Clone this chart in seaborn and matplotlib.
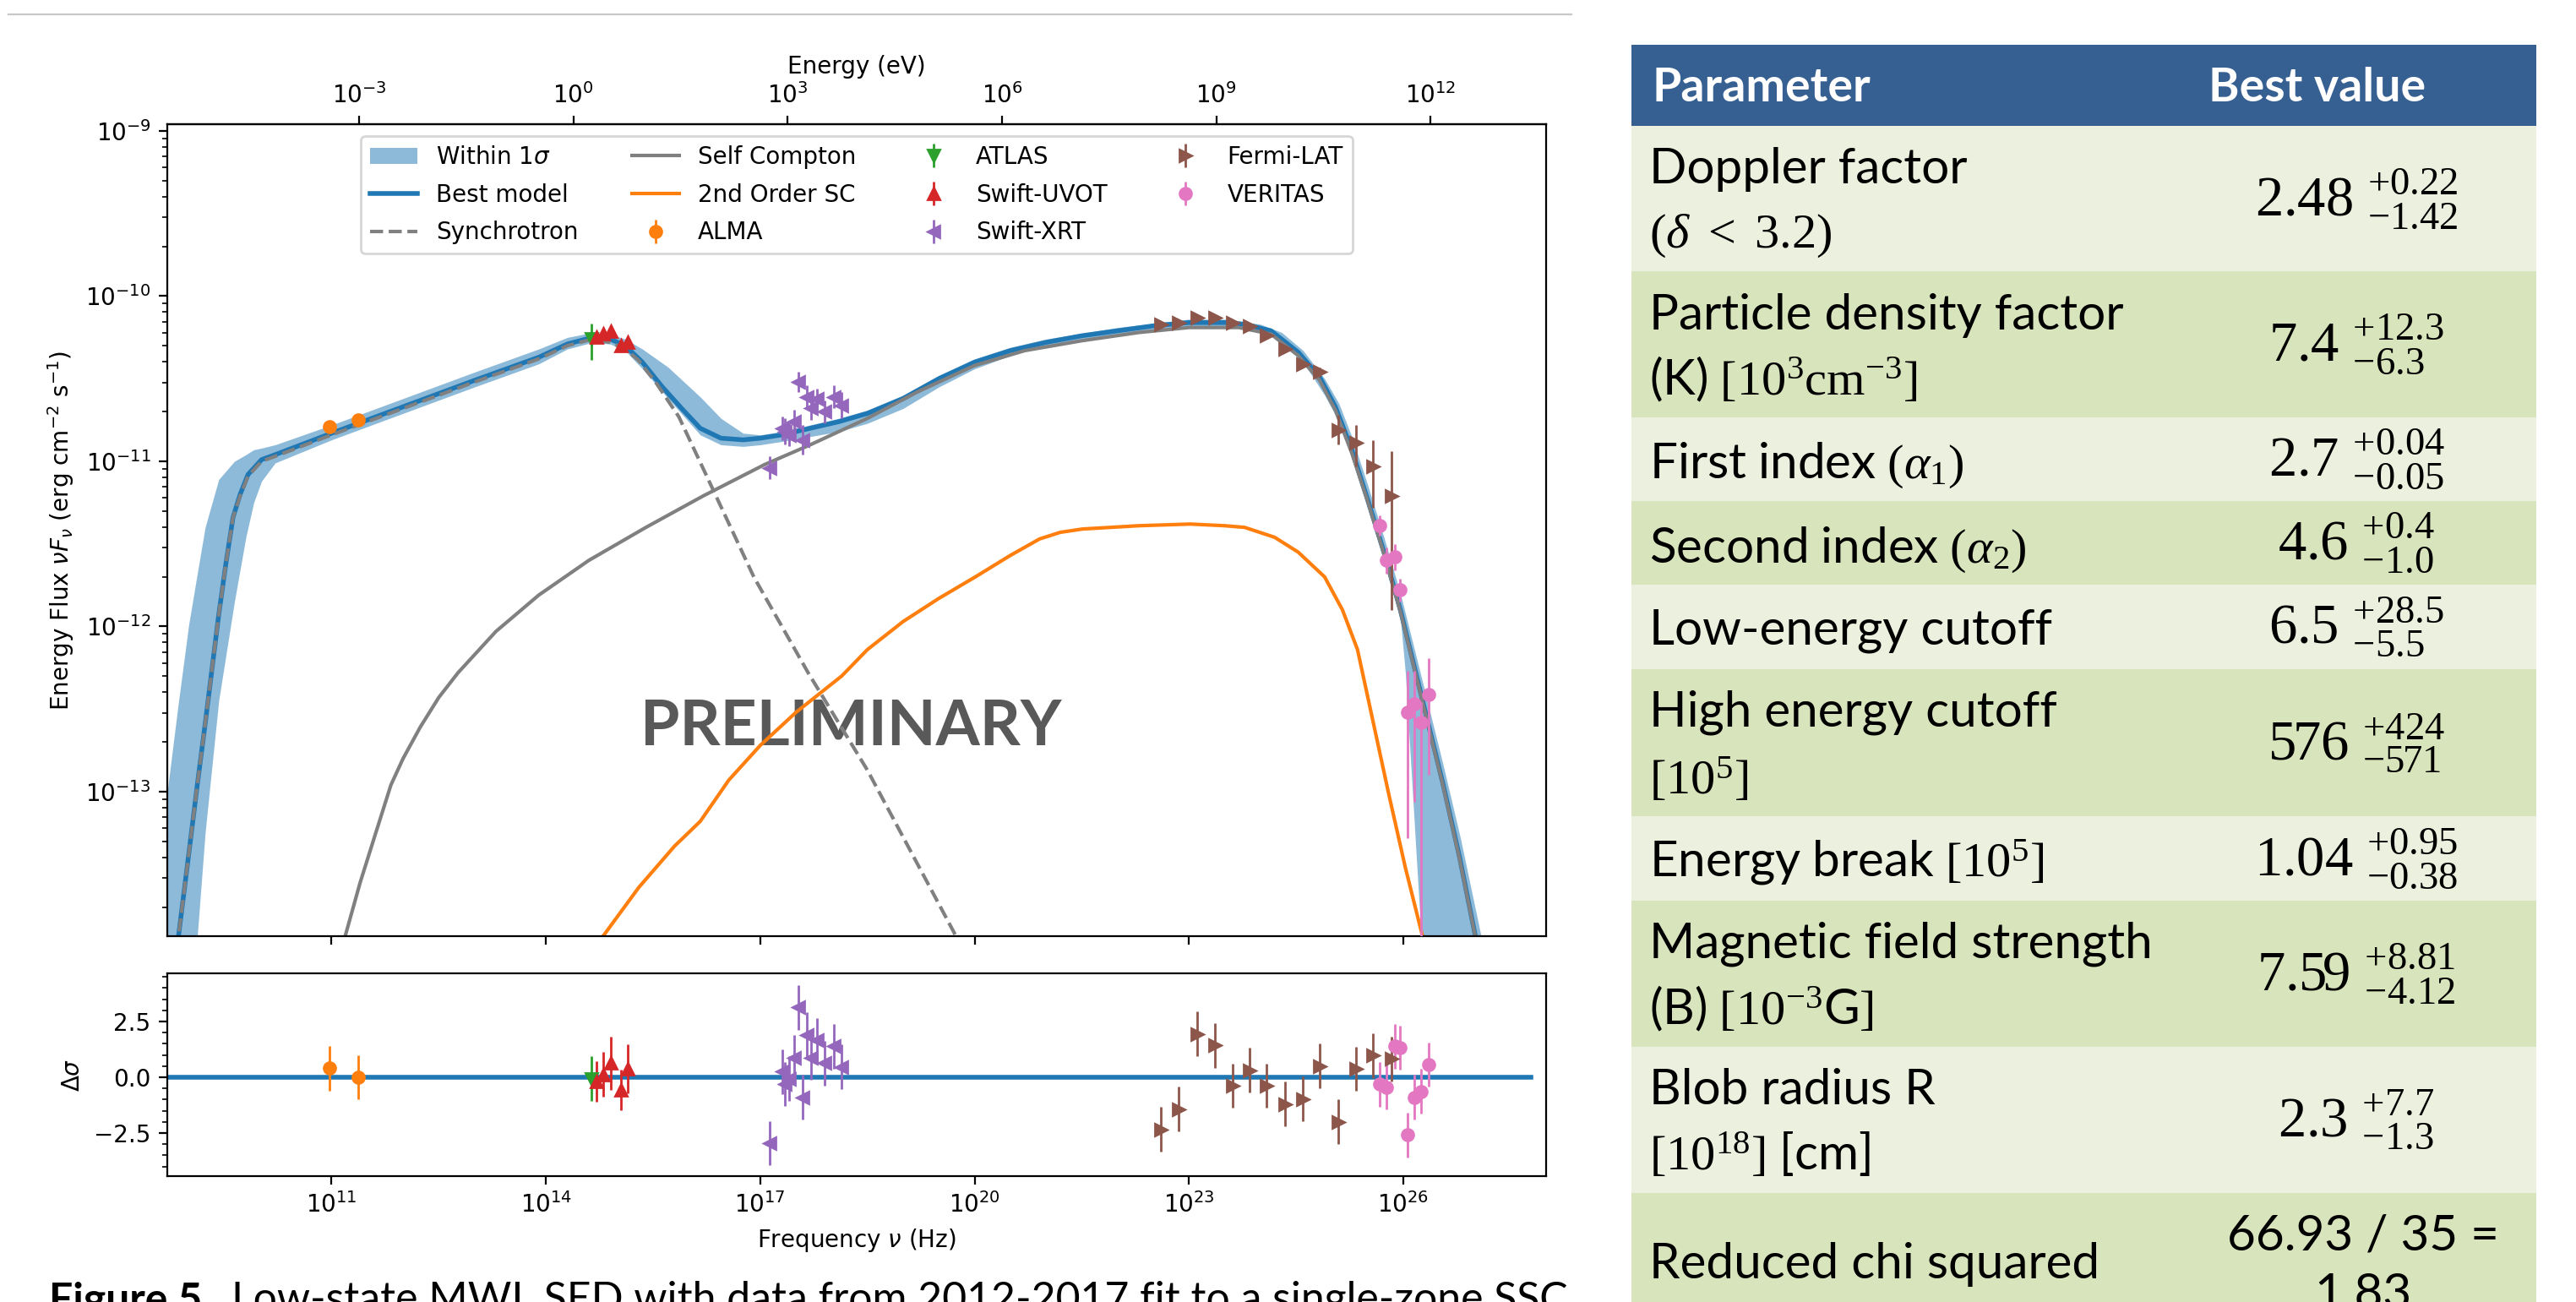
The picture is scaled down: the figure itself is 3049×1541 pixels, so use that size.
import numpy as np
import matplotlib
matplotlib.use("Agg")
import matplotlib.pyplot as plt
import seaborn as sns
from matplotlib.patches import Rectangle, Patch
from matplotlib.lines import Line2D
from matplotlib.ticker import AutoMinorLocator

# ---------------- data (log10 values) ----------------
model_lognu = [8.80, 8.857, 9.00, 9.12, 9.23, 9.42, 9.52, 9.62, 9.72, 9.83, 10.02, 10.21, 11.0, 12.0, 13.0,
               13.9, 14.3, 14.65, 14.9, 15.11, 15.35, 15.63, 15.9, 16.16, 16.45, 16.76, 17.0, 17.3, 17.7, 18.1,
               18.5, 19.0, 19.5, 20.0, 20.5, 21.0, 21.5, 22.0, 22.5, 23.0, 23.5, 23.78, 24.15, 24.53, 24.83,
               25.05, 25.28, 25.50, 25.73, 25.96, 26.26, 26.56, 26.79, 27.01, 27.2]
model_logF = [-14.07, -13.875, -13.38, -12.96, -12.59, -11.93, -11.62, -11.34, -11.20, -11.08, -10.99, -10.96,
              -10.83, -10.67, -10.51, -10.37, -10.29, -10.25, -10.26, -10.30, -10.40, -10.55, -10.68, -10.80,
              -10.86, -10.87, -10.86, -10.84, -10.80, -10.76, -10.71, -10.62, -10.50, -10.40, -10.33, -10.28,
              -10.24, -10.21, -10.18, -10.16, -10.16, -10.17, -10.21, -10.34, -10.49, -10.67, -10.93, -11.23,
              -11.55, -11.90, -12.43, -12.96, -13.40, -13.875, -14.7]

band_lognu = [8.70, 8.85, 9.0, 9.12, 9.23, 9.42, 9.64, 9.80, 9.91, 10.02, 10.21, 11.0, 12.0, 13.0, 13.9, 14.3,
              14.65, 14.9, 15.11, 15.35, 15.71, 16.16, 16.45, 16.76, 17.0, 17.3, 17.7, 18.1, 18.5, 19.0, 19.5,
              20.0, 20.5, 21.0, 22.0, 23.0, 23.5, 24.0, 24.3, 24.6, 24.9, 25.1, 25.28, 25.5, 25.73, 25.96,
              26.03, 26.25, 26.56, 26.8, 27.09, 27.2]
band_hi = [-13.00, -12.48, -11.99, -11.68, -11.40, -11.11, -11.00, -10.96, -10.93, -10.92, -10.90, -10.78,
           -10.62, -10.46, -10.32, -10.25, -10.22, -10.23, -10.26, -10.32, -10.43, -10.61, -10.74, -10.83,
           -10.84, -10.82, -10.78, -10.74, -10.69, -10.60, -10.48, -10.38, -10.31, -10.26, -10.19, -10.14,
           -10.14, -10.17, -10.22, -10.33, -10.50, -10.65, -10.85, -11.14, -11.46, -11.80, -11.92, -12.30,
           -12.84, -13.28, -13.875, -14.3]
band_lo = [-16.0, -15.0, -14.4, -13.875, -13.25, -12.45, -11.85, -11.46, -11.25, -11.12, -11.01, -10.87,
           -10.71, -10.55, -10.41, -10.32, -10.28, -10.29, -10.33, -10.44, -10.62, -10.84, -10.90, -10.91,
           -10.90, -10.88, -10.85, -10.82, -10.77, -10.68, -10.55, -10.44, -10.36, -10.30, -10.23, -10.18,
           -10.18, -10.21, -10.27, -10.40, -10.60, -10.76, -10.97, -11.27, -11.60, -11.95, -12.28, -13.875,
           -15.0, -15.5, -16.0, -16.0]

sync_lognu = [8.80, 8.857, 9.00, 9.12, 9.23, 9.42, 9.52, 9.62, 9.72, 9.83, 10.02, 10.21, 11.0, 12.0, 13.0,
              13.9, 14.3, 14.65, 14.9, 15.11, 15.30, 15.55, 15.86, 16.24, 16.91, 17.67, 18.50, 19.74, 19.95]
sync_logF = [-14.07, -13.875, -13.38, -12.96, -12.59, -11.93, -11.62, -11.34, -11.21, -11.09, -11.00, -10.97,
             -10.84, -10.68, -10.52, -10.38, -10.30, -10.26, -10.28, -10.32, -10.39, -10.53, -10.73, -11.08,
             -11.70, -12.28, -12.87, -13.875, -14.05]

sc_lognu = [11.15, 11.19, 11.40, 11.64, 11.83, 12.0, 12.24, 12.5, 12.77, 13.3, 13.9, 14.6, 15.4, 16.2, 17.06,
            17.7, 18.5, 19.2, 20.0, 20.7, 21.5, 22.3, 23.0, 23.7, 24.15, 24.53, 24.83, 25.05, 25.28, 25.5,
            25.73, 25.96, 26.26, 26.56, 26.79, 27.01, 27.2]
sc_logF = [-14.05, -13.875, -13.55, -13.22, -12.96, -12.80, -12.61, -12.43, -12.28, -12.03, -11.81, -11.60,
           -11.40, -11.21, -11.02, -10.90, -10.74, -10.58, -10.42, -10.33, -10.27, -10.22, -10.19, -10.19,
           -10.23, -10.36, -10.51, -10.69, -10.95, -11.24, -11.56, -11.91, -12.44, -12.97, -13.41, -13.88, -14.7]

sc2_lognu = [14.70, 14.80, 15.3, 15.8, 16.16, 16.56, 17.0, 17.5, 18.14, 18.5, 19.0, 19.5, 20.01, 20.5, 20.91,
             21.2, 21.51, 22.3, 23.02, 23.5, 23.78, 24.2, 24.53, 24.90, 25.15, 25.36, 25.58, 25.8, 26.03,
             26.27, 26.35]
sc2_logF = [-13.95, -13.875, -13.58, -13.33, -13.18, -12.93, -12.72, -12.52, -12.30, -12.14, -11.97, -11.83,
            -11.70, -11.57, -11.47, -11.43, -11.41, -11.39, -11.38, -11.39, -11.40, -11.46, -11.55, -11.70,
            -11.90, -12.14, -12.58, -13.02, -13.46, -13.875, -14.05]

# instruments: log nu, log flux, log lower/upper bound, residual, residual error
alma_lognu = [10.97, 11.37]
alma_logF = [-10.79, -10.75]
alma_lo = [-10.81, -10.77]
alma_hi = [-10.77, -10.73]
alma_res = [0.40, 0.00]
alma_res_err = [1.0, 1.0]

atlas_lognu = [14.64]
atlas_logF = [-10.256]
atlas_lo = [-10.386]
atlas_hi = [-10.167]
atlas_res = [-0.06]
atlas_res_err = [1.0]

uvot_lognu = [14.71, 14.80, 14.91, 15.05, 15.14]
uvot_logF = [-10.25, -10.23, -10.21, -10.30, -10.28]
uvot_lo = [-10.27, -10.25, -10.23, -10.32, -10.30]
uvot_hi = [-10.23, -10.21, -10.19, -10.28, -10.26]
uvot_res = [-0.19, 0.13, 0.63, -0.57, 0.38]
uvot_res_err = [0.9, 1.0, 1.2, 0.9, 1.1]

xrt_lognu = [17.13, 17.31, 17.35, 17.40, 17.47, 17.53, 17.59, 17.65, 17.71, 17.79, 17.90, 18.03, 18.14]
xrt_logF = [-11.04, -10.80, -10.82, -10.84, -10.76, -10.52, -10.87, -10.61, -10.68, -10.62, -10.70, -10.61, -10.66]
xrt_lo = [-11.11, -10.87, -10.90, -10.91, -10.83, -10.58, -10.96, -10.68, -10.75, -10.68, -10.77, -10.68, -10.74]
xrt_hi = [-10.97, -10.73, -10.74, -10.77, -10.69, -10.46, -10.78, -10.54, -10.61, -10.56, -10.63, -10.54, -10.58]
xrt_res = [-2.95, 0.25, -0.30, -0.06, 0.89, 3.13, -0.89, 1.90, 0.89, 1.65, 0.63, 1.39, 0.47]
xrt_res_err = [1.0] * 13

fermi_lognu = [22.61, 22.86, 23.11, 23.36, 23.61, 23.85, 24.09, 24.34, 24.59, 24.83, 25.09, 25.34, 25.58, 25.84]
fermi_logF = [-10.17, -10.16, -10.13, -10.13, -10.16, -10.18, -10.24, -10.32, -10.41, -10.46, -10.81, -10.89,
              -11.03, -11.21]
fermi_lo = [-10.19, -10.18, -10.15, -10.15, -10.18, -10.20, -10.26, -10.34, -10.43, -10.49, -10.90, -11.03,
            -11.28, -11.90]
fermi_hi = [-10.15, -10.14, -10.11, -10.11, -10.14, -10.16, -10.22, -10.30, -10.39, -10.43, -10.72, -10.78,
            -10.87, -10.94]
fermi_res = [-2.34, -1.42, 1.94, 1.43, -0.38, 0.32, -0.38, -1.20, -0.97, 0.51, -2.0, 0.38, 0.97, 0.82]
fermi_res_err = [1.0] * 14

veritas_lognu = [25.67, 25.76, 25.88, 25.96, 26.06, 26.16, 26.25, 26.36]
veritas_logF = [-11.39, -11.60, -11.58, -11.78, -12.52, -12.47, -12.58, -12.41]
veritas_lo = [-11.45, -11.68, -11.66, -11.85, -13.28, -13.06, -14.6, -12.90]
veritas_hi = [-11.33, -11.52, -11.50, -11.71, -12.27, -12.27, -12.46, -12.19]
veritas_res = [-0.32, -0.44, 1.39, 1.33, -2.59, -0.89, -0.63, 0.57]
veritas_res_err = [1.0] * 8

freq_ticks_log = [11, 14, 17, 20, 23, 26]
energy_ticks_log = [-3, 0, 3, 6, 9, 12]
res_ticks = [-2.5, 0.0, 2.5]

# table content
table_header = ["Parameter", "Best value"]
param_line1 = ["Doppler factor", "Particle density factor", r"$\mathsf{First\ index}\ (\alpha_{1})$",
               r"$\mathsf{Second\ index}\ (\alpha_{2})$", "Low-energy cutoff", "High energy cutoff",
               r"$\mathsf{Energy\ break}\ [10^{5}]$", "Magnetic field strength", "Blob radius R",
               "Reduced chi squared"]
param_line2 = [r"$(\delta\ <\ 3.2)$", r"$\mathsf{(K)}\ [10^{3}\mathrm{cm}^{-3}]$", None, None, None,
               r"$[10^{5}]$", None, r"$\mathsf{(B)}\ [10^{-3}\mathsf{G}]$", r"$[10^{18}]\ \mathsf{[cm]}$", None]
best_values = [r"$2.48\ ^{{+}0.22}_{{-}1.42}$", r"$7.4\ ^{{+}12.3}_{{-}6.3}$", r"$2.7\ ^{{+}0.04}_{{-}0.05}$",
               r"$4.6\ ^{{+}0.4}_{{-}1.0}$", r"$6.5\ ^{{+}28.5}_{{-}5.5}$", r"$576\ ^{{+}424}_{{-}571}$",
               r"$1.04\ ^{{+}0.95}_{{-}0.38}$", r"$7.59\ ^{{+}8.81}_{{-}4.12}$", r"$2.3\ ^{{+}7.7}_{{-}1.3}$"]
chi_value = ["66.93 / 35 =", "1.83"]

caption_bold = "Figure 5."
caption_rest = "Low-state MWL SED with data from 2012-2017 fit to a single-zone SSC"

# ---------------- style ----------------
W, H, DPI = 3049, 1541, 200
plt.rcParams.update({
    "font.family": ["DejaVu Sans"],
    "font.size": 10,
    "mathtext.fontset": "dejavusans",
    "mathtext.rm": "Liberation Serif",
    "mathtext.it": "Liberation Serif:italic",
    "mathtext.bf": "Liberation Serif:bold",
    "mathtext.sf": "Lato",
})

fig = plt.figure(figsize=(W / DPI, H / DPI), dpi=DPI)


def fx(x):
    return x / W


def fy(y):
    return 1 - y / H


ax = fig.add_axes([fx(198), fy(1108), (1830 - 198) / W, (1108 - 147) / H])
ax2 = fig.add_axes([fx(198), fy(1392), (1830 - 198) / W, (1392 - 1152) / H], sharex=ax)

ax.set_xscale("log")
ax.set_yscale("log")
ax.set_xlim(10 ** 8.7, 10 ** 28.0)
ax.set_ylim(10 ** -13.875, 10 ** -8.959)

P = lambda v: 10 ** np.asarray(v, dtype=float)

# band
ax.fill_between(P(band_lognu), P(band_lo), P(band_hi), color="C0", alpha=0.5, lw=0, zorder=1)
# curves
sns.lineplot(x=P(model_lognu), y=P(model_logF), ax=ax, color="C0", lw=2.0, sort=False, estimator=None,
             legend=False, zorder=2)
sns.lineplot(x=P(sc_lognu), y=P(sc_logF), ax=ax, color="gray", lw=1.5, sort=False, estimator=None,
             legend=False, zorder=2)
sns.lineplot(x=P(sc2_lognu), y=P(sc2_logF), ax=ax, color="C1", lw=1.5, sort=False, estimator=None,
             legend=False, zorder=2)
sns.lineplot(x=P(sync_lognu), y=P(sync_logF), ax=ax, color="gray", lw=1.5, linestyle="--", sort=False,
             estimator=None, legend=False, zorder=2.5)


def sed_points(lognu, logF, lo, hi, marker, color, label):
    x = P(lognu)
    y = P(logF)
    yerr = [y - P(lo), P(hi) - y]
    return ax.errorbar(x, y, yerr=yerr, fmt=marker, color=color, ms=5, elinewidth=1, capsize=0,
                       label=label, zorder=3)


def res_points(lognu, res, err, marker, color):
    ax2.errorbar(P(lognu), res, yerr=err, fmt=marker, color=color, ms=5, elinewidth=1, capsize=0, zorder=3)


h_alma = sed_points(alma_lognu, alma_logF, alma_lo, alma_hi, "o", "C1", "ALMA")
h_atlas = sed_points(atlas_lognu, atlas_logF, atlas_lo, atlas_hi, "v", "C2", "ATLAS")
h_uvot = sed_points(uvot_lognu, uvot_logF, uvot_lo, uvot_hi, "^", "C3", "Swift-UVOT")
h_xrt = sed_points(xrt_lognu, xrt_logF, xrt_lo, xrt_hi, "<", "C4", "Swift-XRT")
h_fermi = sed_points(fermi_lognu, fermi_logF, fermi_lo, fermi_hi, ">", "C5", "Fermi-LAT")
h_ver = sed_points(veritas_lognu, veritas_logF, veritas_lo, veritas_hi, "o", "C6", "VERITAS")

ax2.axhline(0.0, xmin=0.0, xmax=0.989, color="C0", lw=2, zorder=2)
res_points(alma_lognu, alma_res, alma_res_err, "o", "C1")
res_points(atlas_lognu, atlas_res, atlas_res_err, "v", "C2")
res_points(uvot_lognu, uvot_res, uvot_res_err, "^", "C3")
res_points(xrt_lognu, xrt_res, xrt_res_err, "<", "C4")
res_points(fermi_lognu, fermi_res, fermi_res_err, ">", "C5")
res_points(veritas_lognu, veritas_res, veritas_res_err, "o", "C6")

# legend
handles = [Patch(facecolor="C0", alpha=0.5, edgecolor="none"),
           Line2D([], [], color="C0", lw=2.0),
           Line2D([], [], color="gray", lw=1.5, ls="--"),
           Line2D([], [], color="gray", lw=1.5),
           Line2D([], [], color="C1", lw=1.5),
           h_alma, h_atlas, h_uvot, h_xrt, h_fermi, h_ver]
labels = [r"Within 1$\sigma$", "Best model", "Synchrotron", "Self Compton", "2nd Order SC",
          "ALMA", "ATLAS", "Swift-UVOT", "Swift-XRT", "Fermi-LAT", "VERITAS"]
ax.legend(handles, labels, ncol=4, loc="upper center", fontsize=10, labelspacing=0.6, columnspacing=2.3)

# axes formatting
ax.set_xticks(P(freq_ticks_log))
ax.tick_params(axis="x", labelbottom=False)
ax.set_ylabel(r"Energy Flux $\nu F_\nu$ (erg cm$^{-2}$ s$^{-1}$)")

hplanck = 4.135667696e-15
secax = ax.secondary_xaxis("top", functions=(lambda x: x * hplanck, lambda e: e / hplanck))
secax.set_xticks(P(energy_ticks_log))
secax.set_xlabel("Energy (eV)")

ax2.set_ylim(-4.43, 4.66)
ax2.set_yticks(res_ticks)
ax2.yaxis.set_minor_locator(AutoMinorLocator(5))
ax2.set_ylabel(r"$\Delta\sigma$")
ax2.set_xlabel(r"Frequency $\nu$ (Hz)")

ax.text(0.4957, 0.258, "PRELIMINARY", transform=ax.transAxes, ha="center", va="center",
        fontfamily="Lato", fontweight="bold", fontsize=27, color="#595959", zorder=1)

# top separator line
fig.add_artist(Line2D([fx(10), fx(1860)], [fy(17), fy(17)], color="#c8c8c8", lw=0.8,
                      transform=fig.transFigure))

# ---------------- table ----------------
TX0, TX1 = 1931, 3002
row_edges = [53, 149, 321, 494, 593, 692, 792, 966, 1066, 1239, 1412, 1600]
light, dark = "#EBF1DE", "#D8E4BC"
for i in range(len(row_edges) - 1):
    y0, y1 = row_edges[i], row_edges[i + 1]
    col = "#376092" if i == 0 else (light if i % 2 == 1 else dark)
    fig.add_artist(Rectangle((fx(TX0), fy(y1)), (TX1 - TX0) / W, (y1 - y0) / H, transform=fig.transFigure,
                             facecolor=col, edgecolor="none", zorder=0))

fig.text(fx(1955), fy(120), table_header[0], fontfamily="Lato", fontweight="bold", fontsize=20,
         color="white", va="baseline", ha="left")
fig.text(fx(2614), fy(120), table_header[1], fontfamily="Lato", fontweight="bold", fontsize=20,
         color="white", va="baseline", ha="left")

line1_base = [217, 390, 566, 666, 763, 860, 1037, 1134, 1307, 1513]
line2_base = [293, 467, None, None, None, 940, None, 1212, 1384, None]
BODY_FS = 21
for s1, s2, b1, b2 in zip(param_line1, param_line2, line1_base, line2_base):
    fig.text(fx(1952), fy(b1), s1, fontfamily="Lato", fontsize=BODY_FS, va="baseline", ha="left",
             math_fontfamily="custom")
    if s2 is not None:
        fig.text(fx(1952), fy(b2), s2, fontfamily="Lato", fontsize=BODY_FS, va="baseline", ha="left",
                 math_fontfamily="custom")

for i, v in enumerate(best_values):
    yc = (row_edges[i + 1] + row_edges[i + 2]) / 2
    fig.text(fx(2789), fy(yc), v, fontsize=24, va="center", ha="center", math_fontfamily="custom")

fig.text(fx(2797), fy(1479), chi_value[0], fontfamily="Lato", fontsize=BODY_FS, va="baseline", ha="center")
fig.text(fx(2797), fy(1549), chi_value[1], fontfamily="Lato", fontsize=BODY_FS, va="baseline", ha="center")

# ---------------- caption ----------------
renderer = fig.canvas.get_renderer()
cap_fs = 19.5
t_rest = fig.text(fx(274), fy(1553), caption_rest, fontfamily="Lato", fontsize=cap_fs, va="baseline")
wr = t_rest.get_window_extent(renderer).width
cap_fs = cap_fs * (1853 - 274) / wr
t_rest.set_fontsize(cap_fs)
fig.text(fx(58), fy(1553), caption_bold, fontfamily="Lato", fontweight="bold", fontsize=cap_fs,
         va="baseline")

fig.savefig("out.png", dpi=DPI)
